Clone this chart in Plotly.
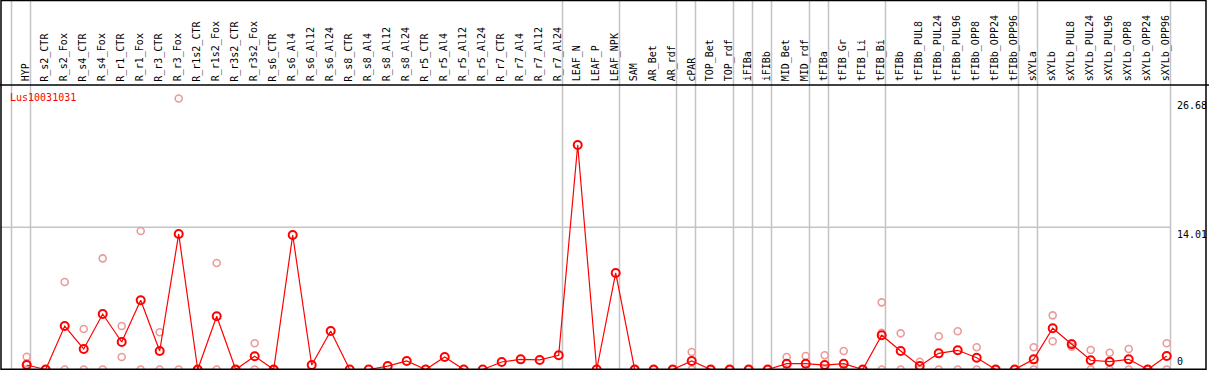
import plotly.graph_objects as go

categories = ["HYP", "R_s2_CTR", "R_s2_Fox", "R_s4_CTR", "R_s4_Fox", "R_r1_CTR", "R_r1_Fox",
              "R_r3_CTR", "R_r3_Fox", "R_r1s2_CTR", "R_r1s2_Fox", "R_r3s2_CTR", "R_r3s2_Fox",
              "R_s6_CTR", "R_s6_Al4", "R_s6_Al12", "R_s6_Al24", "R_s8_CTR", "R_s8_Al4",
              "R_s8_Al12", "R_s8_Al24", "R_r5_CTR", "R_r5_Al4", "R_r5_Al12", "R_r5_Al24",
              "R_r7_CTR", "R_r7_Al4", "R_r7_Al12", "R_r7_Al24", "LEAF_N", "LEAF_P", "LEAF_NPK",
              "SAM", "AR_Bet", "AR_rdf", "cPAR", "TOP_Bet", "TOP_rdf", "iFIBa", "iFIBb",
              "MID_Bet", "MID_rdf", "tFIBa", "tFIB_Gr", "tFIB_Li", "tFIB_Bi", "tFIBb",
              "tFIBb_PUL8", "tFIBb_PUL24", "tFIBb_PUL96", "tFIBb_OPP8", "tFIBb_OPP24",
              "tFIBb_OPP96", "sXYLa", "sXYLb", "sXYLb_PUL8", "sXYLb_PUL24", "sXYLb_PUL96",
              "sXYLb_OPP8", "sXYLb_OPP24", "sXYLb_OPP96"]

mean_values = [0.44, 0, 4.28, 2.02, 5.46, 2.71, 6.81, 1.82, 13.34, 0, 5.24, 0, 1.30,
               0, 13.24, 0.44, 3.79, 0, 0, 0.34, 0.84, 0, 1.23, 0, 0,
               0.74, 1.00, 0.94, 1.40, 22.10, 0, 9.50,
               0, 0, 0, 0.84, 0, 0, 0, 0,
               0.57, 0.57, 0.44, 0.57, 0, 3.37, 1.82,
               0.34, 1.59, 1.89, 1.16, 0, 0,
               1.00, 4.06, 2.48, 0.91, 0.77, 1.00, 0, 1.33]

rep_a = [1.25, 0, 8.61, 3.99, 10.94, 4.28, 13.63, 3.66, 26.68, 0, 10.48, 0, 2.58,
         0, None, None, None, None, None, None, None, None, None, None, None,
         None, None, None, None, None, None, None,
         0, 0, 0, 1.72, 0, 0, 0, 0,
         1.23, 1.33, 1.40, 1.82, 0, 6.61, 3.56,
         0.77, 3.27, 3.76, 2.19, 0, 0,
         2.19, 5.33, 2.58, 1.92, 1.65, 2.02, 0, 2.58]

rep_b = [0.60, 0, 0, 0, 0, 1.23, 0, 0, 0, 0, 0, 0, 0,
         0, None, None, None, None, None, None, None, None, None, None, None,
         None, None, None, None, None, None, None,
         0, 0, 0, 0, 0, 0, 0, 0,
         0, 0, 0, 0, 0, 3.62, 0,
         0, 0, 0, 0, 0, 0,
         0, 2.78, 2.24, 0, 0, 0, 0, 0]

rep_c = [0] + [None] * 44 + [0] + [None] * 15

group_ends = [-1, 0, 28, 31, 34, 35, 37, 38, 39, 41, 42, 45, 52, 53, 60]

tick_values = [0, 14.01, 26.68]
tick_labels = ["0", "14.01", "26.68"]
gene_label = "Lus10031031"

W, H = 1209, 370
FONT = "DejaVu Sans Mono"
x_idx = list(range(len(categories)))

# pixel mapping helpers for the axis ranges (category i at 26.7 + 19*i px)
x0_px, dx_px = 26.7, 19.0
xr = [(0 - x0_px) / dx_px, (W - x0_px) / dx_px]
y0_px, k_px = 369.5, 10.16
yr = [(y0_px - H) / k_px, y0_px / k_px]

fig = go.Figure()

pink = "#eb9a9a"
for reps in (rep_a, rep_b, rep_c):
    fig.add_trace(go.Scatter(
        x=x_idx, y=reps, mode="markers",
        marker=dict(symbol="circle-open", size=7, color=pink, line=dict(width=1.6, color=pink)),
        showlegend=False, hoverinfo="skip"))

fig.add_trace(go.Scatter(
    x=x_idx, y=mean_values, mode="lines+markers",
    line=dict(color="#ff0000", width=1.2),
    marker=dict(symbol="circle-open", size=8, color="#ff0000", line=dict(width=2, color="#ff0000")),
    showlegend=False, hovertemplate="%{text}: %{y}<extra></extra>", text=categories))

shapes = []
for g in group_ends:
    shapes.append(dict(type="line", xref="x", yref="paper", x0=g + 0.2, x1=g + 0.2, y0=0, y1=1,
                       line=dict(color="#c4c4c4", width=1.5), layer="below"))
shapes.append(dict(type="line", xref="x", yref="y", x0=xr[0], x1=group_ends[-1] + 0.2,
                   y0=tick_values[1], y1=tick_values[1],
                   line=dict(color="#c4c4c4", width=1.5), layer="below"))
label_line_y = (H - 85) / H
shapes.append(dict(type="line", xref="paper", yref="paper", x0=0, x1=1, y0=label_line_y, y1=label_line_y,
                   line=dict(color="black", width=1.5)))
shapes.append(dict(type="rect", xref="paper", yref="paper", x0=1 / W, x1=1206 / W, y0=0.8 / H, y1=1 - 0.5 / H,
                   line=dict(color="black", width=1.5)))

annotations = []
for i, c in enumerate(categories):
    annotations.append(dict(x=i - 0.05, y=(H - 82.5) / H, xref="x", yref="paper", text=c, textangle=-90,
                            xanchor="center", yanchor="bottom", showarrow=False,
                            font=dict(family=FONT, size=10, color="black"), borderpad=0))
annotations.append(dict(x=8.5 / W, y=(H - 97.5) / H, xref="paper", yref="paper", text=gene_label,
                        xanchor="left", yanchor="middle", showarrow=False,
                        font=dict(family=FONT, size=10, color="#ff0000"), borderpad=0))
for v, t in zip(tick_values, tick_labels):
    if v == 0:
        annotations.append(dict(x=1176 / W, y=v, xref="paper", yref="y", text=t, xanchor="left",
                                yanchor="bottom", yshift=2, showarrow=False,
                                font=dict(family=FONT, size=10, color="black"), borderpad=0))
    else:
        annotations.append(dict(x=1176 / W, y=v, xref="paper", yref="y", text=t, xanchor="left",
                                yanchor="top", yshift=-1, showarrow=False,
                                font=dict(family=FONT, size=10, color="black"), borderpad=0))

fig.update_layout(
    width=W, height=H, margin=dict(l=0, r=0, t=0, b=0),
    paper_bgcolor="white", plot_bgcolor="white",
    xaxis=dict(range=xr, visible=False, fixedrange=True),
    yaxis=dict(range=yr, visible=False, fixedrange=True),
    shapes=shapes, annotations=annotations, showlegend=False,
)

fig.write_html("out.html", config={"displayModeBar": False},
               post_script="document.body.style.margin='0';document.body.style.overflow='hidden';")
